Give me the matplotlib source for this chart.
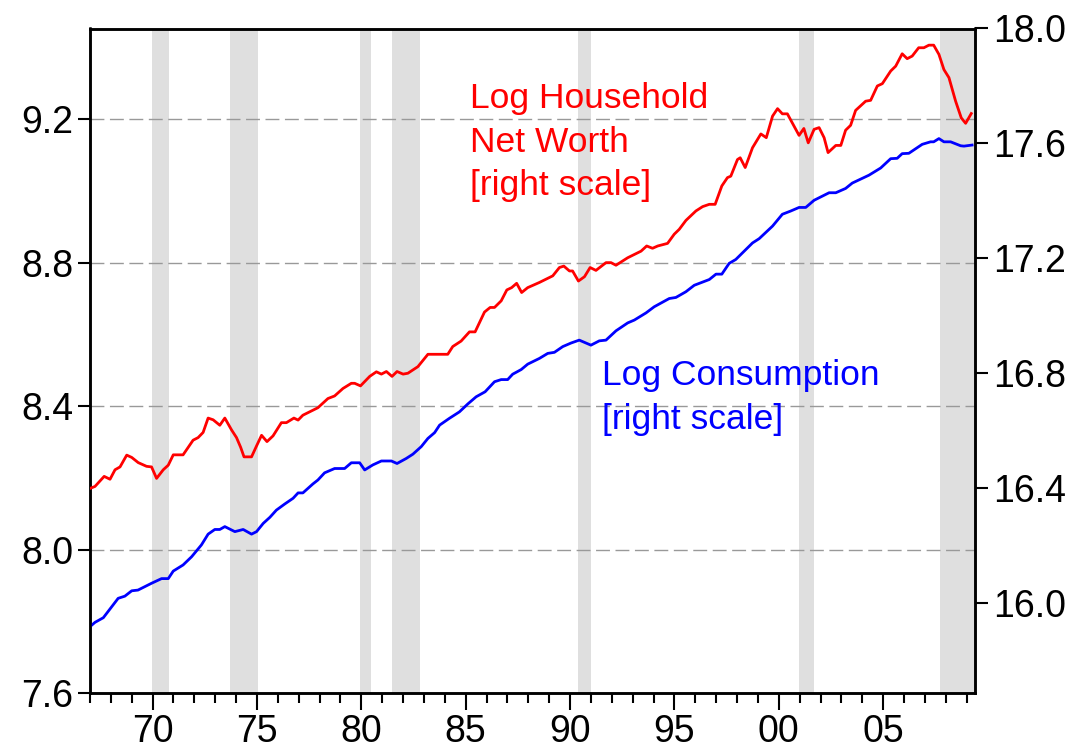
import matplotlib
matplotlib.use("Agg")
import matplotlib.pyplot as plt
from matplotlib.ticker import FixedLocator

plt.rcParams["font.family"] = ["Liberation Sans", "DejaVu Sans"]

# Log consumption (left scale)
cons_year = [1967.0, 1967.24, 1967.64, 1968.35, 1968.67, 1969.0, 1969.3, 1969.95,
             1970.43, 1970.75, 1970.99, 1971.46, 1971.87, 1972.34, 1972.66, 1972.98,
             1973.22, 1973.46, 1973.94, 1974.34, 1974.74, 1974.98, 1975.3, 1975.62,
             1975.93, 1976.33, 1976.73, 1976.97, 1977.2, 1977.68, 1977.92, 1978.24,
             1978.72, 1979.2, 1979.52, 1979.92, 1980.16, 1980.55, 1980.96, 1981.44,
             1981.71, 1982.15, 1982.47, 1982.87, 1983.19, 1983.51, 1983.75, 1984.22,
             1984.7, 1985.1, 1985.5, 1985.93, 1986.38, 1986.7, 1987.01, 1987.25,
             1987.66, 1987.97, 1988.53, 1988.93, 1989.25, 1989.65, 1990.05, 1990.44,
             1991.0, 1991.4, 1991.72, 1992.2, 1992.76, 1993.08, 1993.64, 1994.03,
             1994.75, 1995.07, 1995.55, 1995.95, 1996.67, 1996.99, 1997.27, 1997.62,
             1997.94, 1998.74, 1999.06, 1999.7, 2000.17, 2000.57, 2000.97, 2001.29,
             2001.69, 2002.41, 2002.73, 2003.2, 2003.52, 2004.32, 2004.88, 2005.36,
             2005.67, 2005.91, 2006.23, 2006.87, 2007.27, 2007.42, 2007.67, 2007.91,
             2008.23, 2008.71, 2008.87, 2009.26]
cons_val = [7.785, 7.797, 7.81, 7.864, 7.870, 7.885, 7.887, 7.906,
            7.919, 7.919, 7.940, 7.957, 7.980, 8.013, 8.043, 8.056,
            8.056, 8.064, 8.050, 8.056, 8.043, 8.050, 8.073, 8.090,
            8.110, 8.127, 8.143, 8.158, 8.158, 8.183, 8.194, 8.214,
            8.226, 8.226, 8.242, 8.242, 8.222, 8.236, 8.247, 8.247,
            8.240, 8.254, 8.266, 8.287, 8.310, 8.326, 8.347, 8.366,
            8.384, 8.406, 8.426, 8.440, 8.468, 8.474, 8.474, 8.489,
            8.502, 8.517, 8.533, 8.547, 8.550, 8.566, 8.576, 8.584,
            8.570, 8.582, 8.584, 8.610, 8.632, 8.640, 8.660, 8.677,
            8.700, 8.703, 8.719, 8.737, 8.753, 8.768, 8.768, 8.798,
            8.809, 8.855, 8.867, 8.902, 8.935, 8.944, 8.954, 8.954,
            8.974, 8.995, 8.995, 9.007, 9.022, 9.044, 9.064, 9.090,
            9.091, 9.104, 9.105, 9.130, 9.137, 9.137, 9.146, 9.137,
            9.137, 9.126, 9.125, 9.128]

# Log household net worth (right scale)
nw_year = [1967.0, 1967.24, 1967.68, 1967.96, 1968.2, 1968.44, 1968.76, 1969.0,
           1969.31, 1969.71, 1969.95, 1970.19, 1970.51, 1970.75, 1970.99, 1971.46,
           1971.94, 1972.18, 1972.42, 1972.66, 1972.9, 1973.22, 1973.46, 1973.78,
           1974.02, 1974.22, 1974.38, 1974.74, 1974.98, 1975.22, 1975.48, 1975.77,
           1976.17, 1976.41, 1976.77, 1976.97, 1977.2, 1977.92, 1978.4, 1978.72,
           1979.12, 1979.52, 1979.68, 1979.96, 1980.4, 1980.72, 1980.96, 1981.2,
           1981.47, 1981.71, 1982.0, 1982.23, 1982.71, 1983.19, 1984.14, 1984.38,
           1984.78, 1985.18, 1985.45, 1985.9, 1986.17, 1986.38, 1986.7, 1986.97,
           1987.2, 1987.44, 1987.68, 1987.97, 1988.53, 1989.17, 1989.49, 1989.7,
           1989.97, 1990.12, 1990.4, 1990.69, 1990.96, 1991.24, 1991.72, 1991.96,
           1992.2, 1992.76, 1993.4, 1993.67, 1993.95, 1994.2, 1994.67, 1994.99,
           1995.23, 1995.55, 1996.03, 1996.35, 1996.67, 1996.95, 1997.27, 1997.54,
           1997.7, 1998.02, 1998.15, 1998.39, 1998.74, 1999.14, 1999.4, 1999.7,
           1999.94, 2000.17, 2000.41, 2000.73, 2000.97, 2001.2, 2001.41, 2001.69,
           2001.93, 2002.17, 2002.36, 2002.73, 2002.97, 2003.2, 2003.44, 2003.68,
           2004.16, 2004.4, 2004.72, 2004.96, 2005.36, 2005.6, 2005.91, 2006.15,
           2006.39, 2006.7, 2006.95, 2007.19, 2007.42, 2007.67, 2007.91, 2008.15,
           2008.47, 2008.74, 2008.95, 2009.22]
nw_val = [16.399, 16.406, 16.441, 16.431, 16.464, 16.474, 16.515, 16.507,
          16.489, 16.476, 16.474, 16.434, 16.464, 16.480, 16.516, 16.516,
          16.567, 16.576, 16.594, 16.644, 16.638, 16.619, 16.644, 16.603,
          16.576, 16.542, 16.509, 16.509, 16.547, 16.584, 16.562, 16.582,
          16.628, 16.628, 16.644, 16.637, 16.654, 16.680, 16.712, 16.721,
          16.747, 16.765, 16.765, 16.756, 16.789, 16.805, 16.797, 16.806,
          16.789, 16.806, 16.797, 16.800, 16.823, 16.866, 16.866, 16.893,
          16.912, 16.944, 16.944, 17.013, 17.029, 17.029, 17.052, 17.090,
          17.098, 17.113, 17.081, 17.098, 17.116, 17.139, 17.168, 17.173,
          17.156, 17.156, 17.121, 17.136, 17.168, 17.158, 17.185, 17.185,
          17.176, 17.202, 17.225, 17.243, 17.235, 17.243, 17.252, 17.284,
          17.301, 17.332, 17.365, 17.380, 17.388, 17.388, 17.452, 17.481,
          17.486, 17.544, 17.550, 17.516, 17.585, 17.633, 17.620, 17.695,
          17.721, 17.703, 17.703, 17.660, 17.628, 17.652, 17.602, 17.649,
          17.655, 17.620, 17.568, 17.593, 17.593, 17.646, 17.663, 17.715,
          17.747, 17.750, 17.800, 17.808, 17.852, 17.869, 17.912, 17.895,
          17.904, 17.933, 17.933, 17.942, 17.942, 17.910, 17.857, 17.829,
          17.747, 17.689, 17.670, 17.704]

# recession bands (start, end)
recessions = [(1969.95, 1970.8), (1973.7, 1975.05), (1979.95, 1980.45),
              (1981.45, 1982.8), (1990.4, 1991.0), (2000.95, 2001.7),
              (2007.7, 2009.4)]

left_ticks = [7.6, 8.0, 8.4, 8.8, 9.2]
right_ticks = [16.0, 16.4, 16.8, 17.2, 17.6, 18.0]
year_ticks = [1970, 1975, 1980, 1985, 1990, 1995, 2000, 2005]
year_labels = ["70", "75", "80", "85", "90", "95", "00", "05"]

fig = plt.figure(figsize=(10.75, 7.5), dpi=100)
ax = fig.add_axes([0.0837, 0.076, 0.8233, 0.886])
ax2 = ax.twinx()

for a, b in recessions:
    ax.axvspan(a, b, color="#dfdfdf", lw=0, zorder=0)

for y in left_ticks[1:]:
    ax.axhline(y, color="#999999", lw=1.0, dashes=(10, 4), zorder=1)

ax.plot(cons_year, cons_val, color="#0000ff", lw=2.0, zorder=3)
ax2.plot(nw_year, nw_val, color="#ff0000", lw=2.0, zorder=3)

ax.set_xlim(1967.0, 2009.4)
ax.set_ylim(7.6, 9.453)
ax2.set_ylim(15.687, 18.0)

ax.set_yticks(left_ticks)
ax.set_yticklabels([f"{v:.1f}" for v in left_ticks])
ax2.set_yticks(right_ticks)
ax2.set_yticklabels([f"{v:.1f}" for v in right_ticks])
ax.set_xticks(year_ticks)
ax.set_xticklabels(year_labels)
ax.xaxis.set_minor_locator(FixedLocator(list(range(1967, 2010))))

ax.tick_params(axis="x", which="major", direction="out", length=12, width=1.5,
               labelsize=27, pad=3)
ax.tick_params(axis="x", which="minor", direction="out", length=7, width=1.5)
ax.tick_params(axis="y", direction="out", length=9, width=1.5, labelsize=27, pad=3)
ax2.tick_params(axis="y", direction="out", length=9, width=1.5, labelsize=27, pad=4)

for a in (ax, ax2):
    for s in a.spines.values():
        s.set_linewidth(1.8)
        s.set_color("black")

ax.text(0.429, 0.92, "Log Household\nNet Worth\n[right scale]", transform=ax.transAxes,
        color="#ff0000", fontsize=25.5, va="top", ha="left", linespacing=1.42)
ax.text(0.578, 0.502, "Log Consumption\n[right scale]", transform=ax.transAxes,
        color="#0000ff", fontsize=25.5, va="top", ha="left", linespacing=1.42)

fig.savefig("out.png", dpi=100)
